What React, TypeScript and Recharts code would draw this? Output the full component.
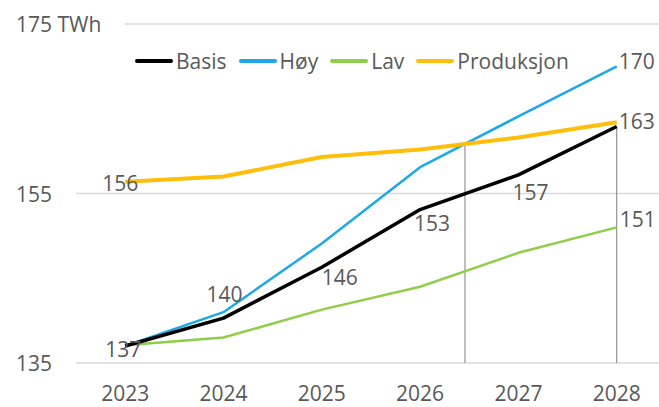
import { LineChart, Line, XAxis, YAxis, CartesianGrid, ReferenceLine, LabelList } from 'recharts'

const YEARS = [2023, 2024, 2025, 2026, 2027, 2028]
const BASIS = [137, 140.3, 146.3, 153.1, 157.2, 162.9]
const HOY = [137, 141, 149.1, 158.1, 164.1, 170]
const LAV = [137.1, 138, 141.3, 144, 148, 151]
const PRODUKSJON = [156.4, 157, 159.3, 160.2, 161.6, 163.4]
const Y_TICKS = [135, 155, 175]

const TEXT = '#595959'
const FONT = '"Open Sans", sans-serif'
const SIZE = 21

// which points carry a value label, and where the text sits relative to the point
const BASIS_LABELS: ([number, number] | null)[] = [[-2, 3], [1, -24], [18, 10], [12, 13], [12, 17], [20, -6]]
const HOY_LABELS: ([number, number] | null)[] = [null, null, null, null, null, [20, -5]]
const LAV_LABELS: ([number, number] | null)[] = [null, null, null, null, null, [21, -8]]
const PROD_LABELS: ([number, number] | null)[] = [[-5, 1], null, null, null, null, null]

const SERIES = [
  { key: 'basis', name: 'Basis', color: '#000000', width: 3.5, labels: BASIS_LABELS },
  { key: 'hoy', name: 'Høy', color: '#1ca9e6', width: 2.5, labels: HOY_LABELS },
  { key: 'lav', name: 'Lav', color: '#8fce48', width: 2.5, labels: LAV_LABELS },
  { key: 'prod', name: 'Produksjon', color: '#ffbe0b', width: 4, labels: PROD_LABELS },
]

const data = YEARS.map((year, i) => ({
  year,
  basis: BASIS[i],
  hoy: HOY[i],
  lav: LAV[i],
  prod: PRODUKSJON[i],
}))

// where the Høy line climbs above Produksjon
function crossing(a: number[], b: number[]) {
  for (let i = 0; i < a.length - 1; i++) {
    const d0 = a[i] - b[i]
    const d1 = a[i + 1] - b[i + 1]
    if (d0 < 0 && d1 >= 0) {
      const t = -d0 / (d1 - d0)
      return { x: YEARS[i] + t, y: a[i] + t * (a[i + 1] - a[i]) }
    }
  }
  return null
}
const cross = crossing(HOY, PRODUKSJON)
const last = YEARS.length - 1

const makeLabel = (offsets: ([number, number] | null)[]) => (props: any) => {
  const { x, y, index, value } = props
  const off = offsets[index]
  if (!off) return null
  return (
    <text
      x={x + off[0]}
      y={y + off[1]}
      textAnchor="middle"
      dominantBaseline="central"
      fill={TEXT}
      fontSize={SIZE}
      fontFamily={FONT}
    >
      {Math.round(value)}
    </text>
  )
}

const YTick = ({ y, payload }: any) => {
  const top = payload.value === 175
  return (
    <g>
      {top && <rect x={0} y={y - 12} width={125} height={24} fill="#fff" />}
      <text x={16} y={y} dominantBaseline="central" fill={TEXT} fontSize={SIZE} fontFamily={FONT}>
        {top ? '175 TWh' : payload.value}
      </text>
    </g>
  )
}

const XTick = ({ x, y, payload }: any) => (
  <text x={x} y={y + 30} textAnchor="middle" fill={TEXT} fontSize={SIZE} fontFamily={FONT}>
    {payload.value}
  </text>
)

export default function App() {
  return (
    <div style={{ position: 'absolute', left: 0, top: 0, width: 659, height: 407, background: '#fff' }}>
      <LineChart width={659} height={407} data={data} margin={{ top: 24, right: 0, bottom: 0, left: 0 }}>
        <CartesianGrid vertical={false} stroke="#d9d9d9" strokeWidth={1.5} />
        <XAxis
          dataKey="year"
          type="number"
          domain={[2022.5, 2028.43]}
          ticks={YEARS}
          axisLine={false}
          tickLine={false}
          height={44}
          tick={<XTick />}
          allowDataOverflow
        />
        <YAxis
          domain={[135, 175]}
          ticks={Y_TICKS}
          axisLine={false}
          tickLine={false}
          width={76}
          tick={<YTick />}
        />
        {cross && (
          <ReferenceLine
            segment={[{ x: cross.x, y: 135 }, { x: cross.x, y: cross.y }]}
            stroke="#7f7f7f"
            strokeWidth={1}
          />
        )}
        <ReferenceLine
          segment={[{ x: YEARS[last], y: 135 }, { x: YEARS[last], y: BASIS[last] }]}
          stroke="#7f7f7f"
          strokeWidth={1}
        />
        {[SERIES[2], SERIES[1], SERIES[0], SERIES[3]].map(s => (
          <Line
            key={s.key}
            dataKey={s.key}
            stroke={s.color}
            strokeWidth={s.width}
            dot={false}
            activeDot={false}
            isAnimationActive={false}
            strokeLinejoin="round"
          >
            <LabelList dataKey={s.key} content={makeLabel(s.labels)} />
          </Line>
        ))}
      </LineChart>
      <div
        style={{
          position: 'absolute',
          left: 135,
          top: 47,
          display: 'flex',
          alignItems: 'center',
          fontFamily: FONT,
          fontSize: SIZE,
          color: TEXT,
        }}
      >
        {SERIES.map(s => (
          <div key={s.key} style={{ display: 'flex', alignItems: 'center', marginRight: 12 }}>
            <div style={{ width: 38, height: 4, background: s.color, borderRadius: 2, marginRight: 3 }} />
            <span>{s.name}</span>
          </div>
        ))}
      </div>
    </div>
  )
}
